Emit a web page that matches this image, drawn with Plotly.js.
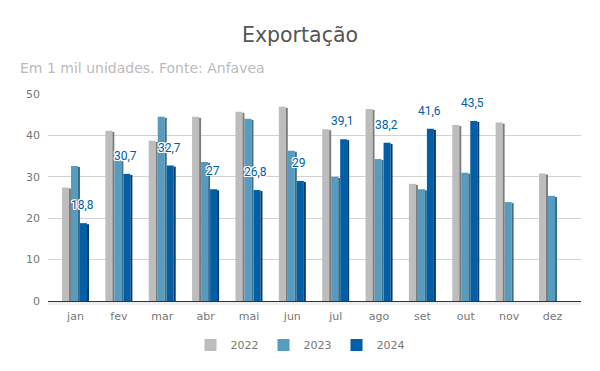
<!DOCTYPE html>
<html><head><meta charset="utf-8">
<script src="https://cdn.plot.ly/plotly-3.0.1.min.js"></script>
<style>body{margin:0;background:#fff}#c{width:600px;height:371px}</style>
</head><body><div id="c"></div>
<script>
const months = ["jan","fev","mar","abr","mai","jun","jul","ago","set","out","nov","dez"];
const v2022 = [27.4, 41.1, 38.7, 44.5, 45.7, 46.9, 41.5, 46.4, 28.3, 42.5, 43.1, 30.8];
const v2023 = [32.6, 34.0, 44.5, 33.6, 44.0, 36.3, 30.0, 34.3, 27.0, 31.0, 23.9, 25.4];
const v2024 = [18.8, 30.7, 32.7, 27.0, 26.8, 29.0, 39.1, 38.2, 41.6, 43.5, null, null];
const seriesNames = ["2022","2023","2024"];
const faceColors = ["#bdbdbd","#579cc0","#005fa7"];
const sideColors = ["#7d7d7d","#3b6f8c","#003c6e"];
const series = [v2022, v2023, v2024];
const labels2024 = v2024.map(v => v == null ? "" : String(v).replace(".", ","));

const FONT = "DejaVu Sans";
// geometry (category units): pitch 9px of 43.36px per category
const CAT = 43.36;
const groupLeft = -13.5 / CAT, pitch = 9 / CAT, faceW = 7 / CAT, sideW = 2 / CAT;

const traces = [];
series.forEach((vals, k) => {
  traces.push({type:"bar", name:seriesNames[k], x:months, y:vals,
    offset: groupLeft + k*pitch, width: faceW,
    marker:{color:faceColors[k], line:{width:0}}, hoverinfo:"skip", legendgroup:seriesNames[k]});
});
series.forEach((vals, k) => {
  traces.push({type:"bar", name:seriesNames[k]+" lado", x:months, y:vals.map(v => v == null ? null : v - 0.25),
    offset: groupLeft + k*pitch + faceW, width: sideW, showlegend:false,
    marker:{color:sideColors[k], line:{width:0}}, hoverinfo:"skip", legendgroup:seriesNames[k]});
});

const halo = "1px 0 0 #fff, -1px 0 0 #fff, 0 1px 0 #fff, 0 -1px 0 #fff, 1px 1px 0 #fff, -1px -1px 0 #fff, 1px -1px 0 #fff, -1px 1px 0 #fff";
const labelAnnots = v2024.map((v, i) => v == null ? null : ({
  x: i + 7/CAT, y: v, xref:"x", yref:"y", text: labels2024[i], showarrow:false,
  xanchor:"center", yanchor:"middle", yshift:18,
  font:{family:"Roboto", size:12, color:"#0060a8", shadow:halo}
})).filter(a => a);

const layout = {
  width:600, height:371,
  margin:{l:48, r:19, t:94, b:70},
  paper_bgcolor:"#fff", plot_bgcolor:"#fff",
  font:{family:FONT, color:"#777"},
  title:{text:"Exportação", font:{family:FONT, size:20.5, color:"#555"}, x:0.5, xanchor:"center", y:1-35/371, yanchor:"middle"},
  barmode:"overlay",
  showlegend:true,
  legend:{orientation:"h", xref:"container", x:0.5, xanchor:"center", yref:"container", y:1-345/371, yanchor:"middle",
          font:{family:FONT, size:11, color:"#777"}, itemwidth:30, traceorder:"normal"},
  xaxis:{range:[-27.5/CAT, 11 + 28.5/CAT], showgrid:false, showline:true, linecolor:"#333", linewidth:1.2, ticks:"",
         ticklabelstandoff:5, tickfont:{family:FONT, size:11, color:"#777"}, fixedrange:true},
  yaxis:{range:[0,50], dtick:10, gridcolor:"#d2d2d2", zeroline:false, showline:false, ticks:"",
         ticklabelstandoff:7, tickfont:{family:FONT, size:11, color:"#777"}, fixedrange:true},
  shapes:[{type:"rect", xref:"paper", yref:"paper", x0:0, x1:1, y0:-4/207, y1:-0.7/207,
           fillcolor:"#efefef", line:{width:0}, layer:"below"}],
  annotations:[{text:"Em 1 mil unidades. Fonte: Anfavea", xref:"paper", yref:"paper",
                x:-30/533, y:(301-68)/207, xanchor:"left", yanchor:"middle", showarrow:false,
                font:{family:FONT, size:14, color:"#bbb"}}].concat(labelAnnots)
};
Plotly.newPlot("c", traces, layout, {displayModeBar:false, staticPlot:true});
</script></body></html>
